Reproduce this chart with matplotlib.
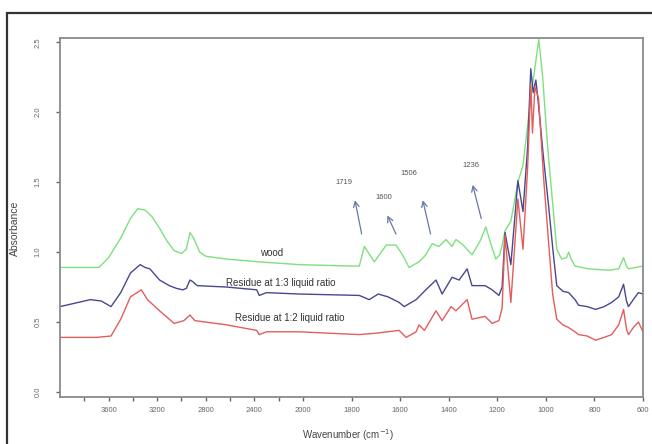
import numpy as np
import matplotlib
matplotlib.use("Agg")
import matplotlib.pyplot as plt
from matplotlib.patches import Rectangle

wood_w = [4000, 3800, 3680, 3600, 3500, 3420, 3360, 3300, 3240, 3180, 3120, 3060, 3000,
          2960, 2930, 2900, 2880, 2850, 2800, 2630, 2360, 2030, 1800, 1768, 1747, 1706,
          1657, 1617, 1590, 1563, 1522, 1494, 1468, 1440, 1411, 1386, 1370, 1340, 1304,
          1270, 1247, 1225, 1206, 1190, 1180, 1168, 1144, 1115, 1094, 1062, 1029, 1013,
          993, 972, 955, 935, 915, 906, 896, 880, 824, 742, 700, 680, 668, 660, 630, 600]
wood_a = [0.89, 0.89, 0.89, 0.96, 1.10, 1.24, 1.31, 1.30, 1.25, 1.17, 1.08, 1.01, 0.99,
          1.02, 1.14, 1.10, 1.06, 1.00, 0.97, 0.95, 0.93, 0.91, 0.90, 0.90, 1.04, 0.93,
          1.05, 1.05, 0.98, 0.89, 0.93, 0.98, 1.06, 1.04, 1.09, 1.04, 1.09, 1.05, 0.98,
          1.08, 1.18, 1.05, 0.95, 0.98, 1.05, 1.15, 1.22, 1.50, 1.62, 2.10, 2.52, 2.25,
          1.76, 1.35, 1.02, 0.95, 0.96, 1.00, 0.95, 0.90, 0.88, 0.87, 0.88, 0.96, 0.90,
          0.88, 0.89, 0.90]

r13_w = [4000, 3900, 3750, 3660, 3580, 3500, 3420, 3340, 3300, 3260, 3180, 3100, 3040,
         2990, 2960, 2930, 2910, 2870, 2630, 2380, 2360, 2300, 2030, 1768, 1727, 1690,
         1650, 1604, 1583, 1534, 1494, 1452, 1427, 1386, 1357, 1324, 1304, 1250, 1221,
         1193, 1180, 1168, 1144, 1115, 1094, 1075, 1062, 1052, 1041, 1030, 1010, 988,
         970, 955, 930, 906, 880, 865, 830, 795, 760, 729, 700, 680, 668, 660, 640, 619, 600]
r13_a = [0.61, 0.63, 0.66, 0.65, 0.61, 0.71, 0.85, 0.91, 0.89, 0.88, 0.80, 0.76, 0.74,
         0.73, 0.74, 0.80, 0.79, 0.76, 0.75, 0.73, 0.69, 0.71, 0.70, 0.69, 0.66, 0.70,
         0.68, 0.64, 0.61, 0.66, 0.73, 0.80, 0.70, 0.82, 0.80, 0.88, 0.76, 0.76, 0.73,
         0.69, 0.75, 1.14, 0.91, 1.51, 1.29, 1.75, 2.31, 2.14, 2.23, 2.05, 1.68, 1.32,
         1.00, 0.76, 0.72, 0.71, 0.66, 0.62, 0.61, 0.59, 0.61, 0.64, 0.68, 0.77, 0.65,
         0.61, 0.66, 0.71, 0.70]

r12_w = [4000, 3700, 3580, 3500, 3420, 3330, 3280, 3180, 3060, 2980, 2930, 2890, 2630,
         2380, 2360, 2300, 2030, 1768, 1700, 1604, 1575, 1534, 1522, 1500, 1452, 1427,
         1390, 1370, 1324, 1304, 1250, 1221, 1193, 1180, 1168, 1144, 1115, 1094, 1075,
         1062, 1055, 1045, 1030, 1010, 990, 972, 955, 930, 906, 880, 865, 830, 795, 760,
         729, 700, 680, 668, 660, 640, 619, 600]
r12_a = [0.39, 0.39, 0.40, 0.52, 0.68, 0.73, 0.66, 0.58, 0.49, 0.51, 0.55, 0.51, 0.48,
         0.44, 0.41, 0.43, 0.43, 0.41, 0.42, 0.44, 0.39, 0.43, 0.48, 0.44, 0.58, 0.51,
         0.61, 0.58, 0.66, 0.52, 0.54, 0.49, 0.51, 0.60, 1.12, 0.64, 1.38, 1.02, 1.60,
         2.20, 1.85, 2.18, 2.10, 1.55, 1.10, 0.70, 0.52, 0.48, 0.46, 0.43, 0.41, 0.40,
         0.37, 0.39, 0.41, 0.48, 0.59, 0.45, 0.41, 0.46, 0.50, 0.43]

x_ticks = [3600, 3200, 2800, 2400, 2000, 1800, 1600, 1400, 1200, 1000, 800, 600]
x_minor = [3800, 3400, 3000, 2600, 2200]
y_ticks = [0.0, 0.5, 1.0, 1.5, 2.0, 2.5]

picos = ["1719", "1600", "1506", "1236"]


# escala con expansion x2 por debajo de 2000 cm-1 (como el software del FTIR)
def fwd(w):
    w = np.asarray(w, dtype=float)
    return np.where(w > 2000, 2000 + (w - 2000) / 2, w)


def inv(u):
    u = np.asarray(u, dtype=float)
    return np.where(u > 2000, 2000 + (u - 2000) * 2, u)


plt.rcParams['font.family'] = ['Liberation Sans', 'DejaVu Sans']

fig = plt.figure(figsize=(6.52, 4.44), dpi=100)
ax = fig.add_axes([60 / 652, 1 - 397 / 444, 583 / 652, 359 / 444])

ax.set_xscale('function', functions=(fwd, inv))

ax.plot(wood_w, wood_a, color='#7ee07e', lw=1.0)
ax.plot(r13_w, r13_a, color='#48488e', lw=1.0)
ax.plot(r12_w, r12_a, color='#e45c5c', lw=1.0)

ax.set_xlim(4000, 600)
ax.set_ylim(-0.036, 2.53)

ax.set_xticks(x_ticks)
ax.set_xticklabels([str(t) for t in x_ticks])
ax.set_xticks(x_minor, minor=True)
ax.set_yticks(y_ticks)
ax.set_yticklabels(["%.1f" % t for t in y_ticks], rotation=90, va='center')

ax.tick_params(axis='both', which='both', direction='out', length=3, width=1,
               colors='#666666', labelsize=5.5, pad=4)
ax.tick_params(axis='x', which='minor', length=3)
ax.tick_params(axis='y', pad=10)

for s in ax.spines.values():
    s.set_color('#8a8a8a')
    s.set_linewidth(1.3)

ax.set_xlabel(r"Wavenumber (cm$^{-1}$)", fontsize=7, color='#444444')
ax.xaxis.set_label_coords(0.494, -0.085)
ax.set_ylabel("Absorbance", fontsize=7.5, color='#444444')
ax.yaxis.set_label_coords(-0.069, 0.47)

# etiquetas de las curvas
ax.text(2259, 0.99, "wood", fontsize=7, color='#333333', ha='center', va='center')
ax.text(2186, 0.78, "Residue at 1:3 liquid ratio", fontsize=7, color='#333333',
        ha='center', va='center')
ax.text(2112, 0.53, "Residue at 1:2 liquid ratio", fontsize=7, color='#333333',
        ha='center', va='center')

# flechas de los picos
flechas = [((1788, 1.39), (1756, 1.11), (1830, 1.50)),
           ((1657, 1.28), (1612, 1.11), (1665, 1.39)),
           ((1509, 1.39), (1472, 1.11), (1563, 1.56)),
           ((1304, 1.50), (1263, 1.22), (1308, 1.62))]
for lab, (head, tail, txt) in zip(picos, flechas):
    ax.annotate("", xy=head, xytext=tail,
                arrowprops=dict(arrowstyle='->', color='#6a78a8', lw=0.9))
    ax.text(txt[0], txt[1], lab, fontsize=5.5, color='#555555', ha='center', va='center')

# marco exterior de la figura
fig.patches.append(Rectangle((7 / 652, -0.02), 1.1, 1 - 13 / 444 + 0.02,
                             transform=fig.transFigure, fill=False,
                             edgecolor='#333333', lw=1.6))

fig.savefig("out.png", dpi=100)
